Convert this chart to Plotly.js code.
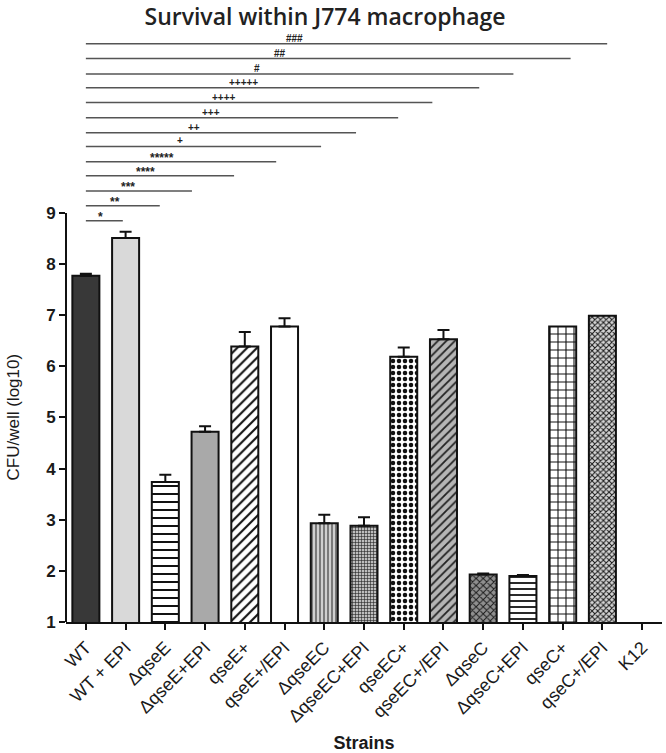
<!DOCTYPE html>
<html>
<head>
<meta charset="utf-8">
<script src="https://cdn.plot.ly/plotly-3.0.1.min.js"></script>
<style>html,body{margin:0;padding:0;background:#fff;}#chart{width:666px;height:753px;}</style>
</head>
<body>
<div id="chart"></div>
<script>
// ---- data ----
var strains = ["WT", "WT + EPI", "ΔqseE", "ΔqseE+EPI", "qseE+", "qseE+/EPI", "ΔqseEC", "ΔqseEC+EPI",
               "qseEC+", "qseEC+/EPI", "ΔqseC", "ΔqseC+EPI", "qseC+", "qseC+/EPI", "K12"];
var cfuLog10 = [7.77, 8.51, 3.74, 4.72, 6.39, 6.78, 2.93, 2.88, 6.19, 6.53, 1.93, 1.90, 6.78, 6.99, 0];
var sem      = [0.04, 0.12, 0.14, 0.11, 0.28, 0.16, 0.17, 0.17, 0.18, 0.18, 0.02, 0.02, 0.0, 0.0, 0];
// significance brackets (from WT to the compared strain)
var sigLabels = ["*", "**", "***", "****", "*****", "+", "++", "+++", "++++", "+++++", "#", "##", "###"];
var sigEnd    = [0.93, 1.86, 2.67, 3.73, 4.79, 5.92, 6.80, 7.86, 8.72, 9.90, 10.76, 12.2, 13.12];
var sigLevel  = [8.85, 9.14, 9.43, 9.73, 10.00, 10.30, 10.57, 10.86, 11.16, 11.45, 11.72, 12.02, 12.31];
var yTicks = [1, 2, 3, 4, 5, 6, 7, 8, 9];
var yTitle = "CFU/well (log10)";

// ---- styles ----
var fills = [
  {color: "#383838", shape: ""},
  {color: "#d9d9d9", shape: ""},
  {color: "#ffffff", shape: "-", fg: "#111", size: 8, sol: 0.25},
  {color: "#a9a9a9", shape: ""},
  {color: "#ffffff", shape: "/", fg: "#111", size: 7, sol: 0.3},
  {color: "#ffffff", shape: ""},
  {color: "#cfcfcf", shape: "|", fg: "#555", size: 4, sol: 0.35},
  {color: "#bdbdbd", shape: "+", fg: "#222", size: 3, sol: 0.35},
  {color: "#ffffff", shape: ".", fg: "#111", size: 6, sol: 0.45},
  {color: "#b5b5b5", shape: "/", fg: "#222", size: 6, sol: 0.3},
  {color: "#8f8f8f", shape: "x", fg: "#1a1a1a", size: 5, sol: 0.35},
  {color: "#ffffff", shape: "-", fg: "#111", size: 6, sol: 0.3},
  {color: "#ffffff", shape: "+", fg: "#111", size: 8, sol: 0.25},
  {color: "#d5d5d5", shape: "x", fg: "#1a1a1a", size: 4, sol: 0.45}
];

var traces = [];
for (var i = 0; i < strains.length; i++) {
  var f = fills[i] || {color: "#fff", shape: ""};
  var pat = {shape: f.shape};
  if (f.shape) { pat.fgcolor = f.fg; pat.bgcolor = f.color; pat.size = f.size; pat.solidity = f.sol; pat.fillmode = "replace"; }
  traces.push({
    type: "bar",
    x: [strains[i]],
    y: [cfuLog10[i]],
    width: 0.68,
    marker: {color: f.color, line: {color: "#111", width: 2}, pattern: pat},
    error_y: {type: "data", symmetric: false, array: [sem[i]], arrayminus: [0], visible: sem[i] > 0,
              color: "#111", thickness: 2, width: 6},
    showlegend: false,
    hoverinfo: "x+y"
  });
}

var shapes = [
  {type: "line", xref: "paper", yref: "y", x0: 0, x1: 0, y0: yTicks[0], y1: yTicks[yTicks.length - 1], line: {color: "#111", width: 2}}
];
var annotations = [
  {xref: "paper", x: 0, xanchor: "center", xshift: -53, yref: "y", y: (yTicks[0] + yTicks[yTicks.length - 1]) / 2,
   text: yTitle, textangle: -90, showarrow: false,
   font: {family: "Liberation Sans, Arial, sans-serif", size: 17, color: "#1a1a1a"}}
];
for (var k = 0; k < sigLabels.length; k++) {
  shapes.push({type: "line", xref: "x", yref: "y", x0: 0, x1: sigEnd[k], y0: sigLevel[k], y1: sigLevel[k],
               line: {color: "#555", width: 1.5}});
  annotations.push({xref: "x", yref: "y", x: sigEnd[k] * 0.4, y: sigLevel[k], yanchor: "bottom",
                    yshift: sigLabels[k].charAt(0) === "*" ? -5 : -2,
                    text: "<b>" + sigLabels[k] + "</b>", showarrow: false,
                    font: {family: "Liberation Sans, Arial, sans-serif", size: sigLabels[k].charAt(0) === "*" ? 12 : 10, color: "#222"}});
}

var layout = {
  width: 666, height: 753,
  margin: {l: 66, r: 4, t: 34, b: 131},
  paper_bgcolor: "#fff", plot_bgcolor: "#fff",
  barmode: "overlay",
  title: {text: "Survival within J774 macrophage", x: 0.488, xanchor: "center", y: 0.988, yanchor: "top",
          font: {family: "Open Sans, sans-serif", size: 23, color: "#222", weight: 600}},
  xaxis: {
    type: "category", categoryorder: "array", categoryarray: strains,
    range: [-0.5, 14.5],
    showline: true, linecolor: "#111", linewidth: 2,
    ticks: "outside", ticklen: 6, tickwidth: 2, tickcolor: "#111",
    tickangle: -45, showgrid: false, zeroline: false,
    tickfont: {family: "Liberation Sans, Arial, sans-serif", size: 18, color: "#1a1a1a"},
    title: {text: "<b>Strains</b>", standoff: 22, font: {family: "Liberation Sans, Arial, sans-serif", size: 18, color: "#1a1a1a"}}
  },
  yaxis: {
    range: [1, 12.5], tickvals: yTicks, ticktext: yTicks.map(String),
    showline: false, showgrid: false, zeroline: false,
    ticks: "outside", ticklen: 6, tickwidth: 2, tickcolor: "#111",
    tickfont: {family: "Liberation Sans, Arial, sans-serif", size: 17, color: "#1a1a1a", weight: "bold"}
  },
  shapes: shapes,
  annotations: annotations
};

Plotly.newPlot("chart", traces, layout, {displayModeBar: false, staticPlot: true});
</script>
</body>
</html>
